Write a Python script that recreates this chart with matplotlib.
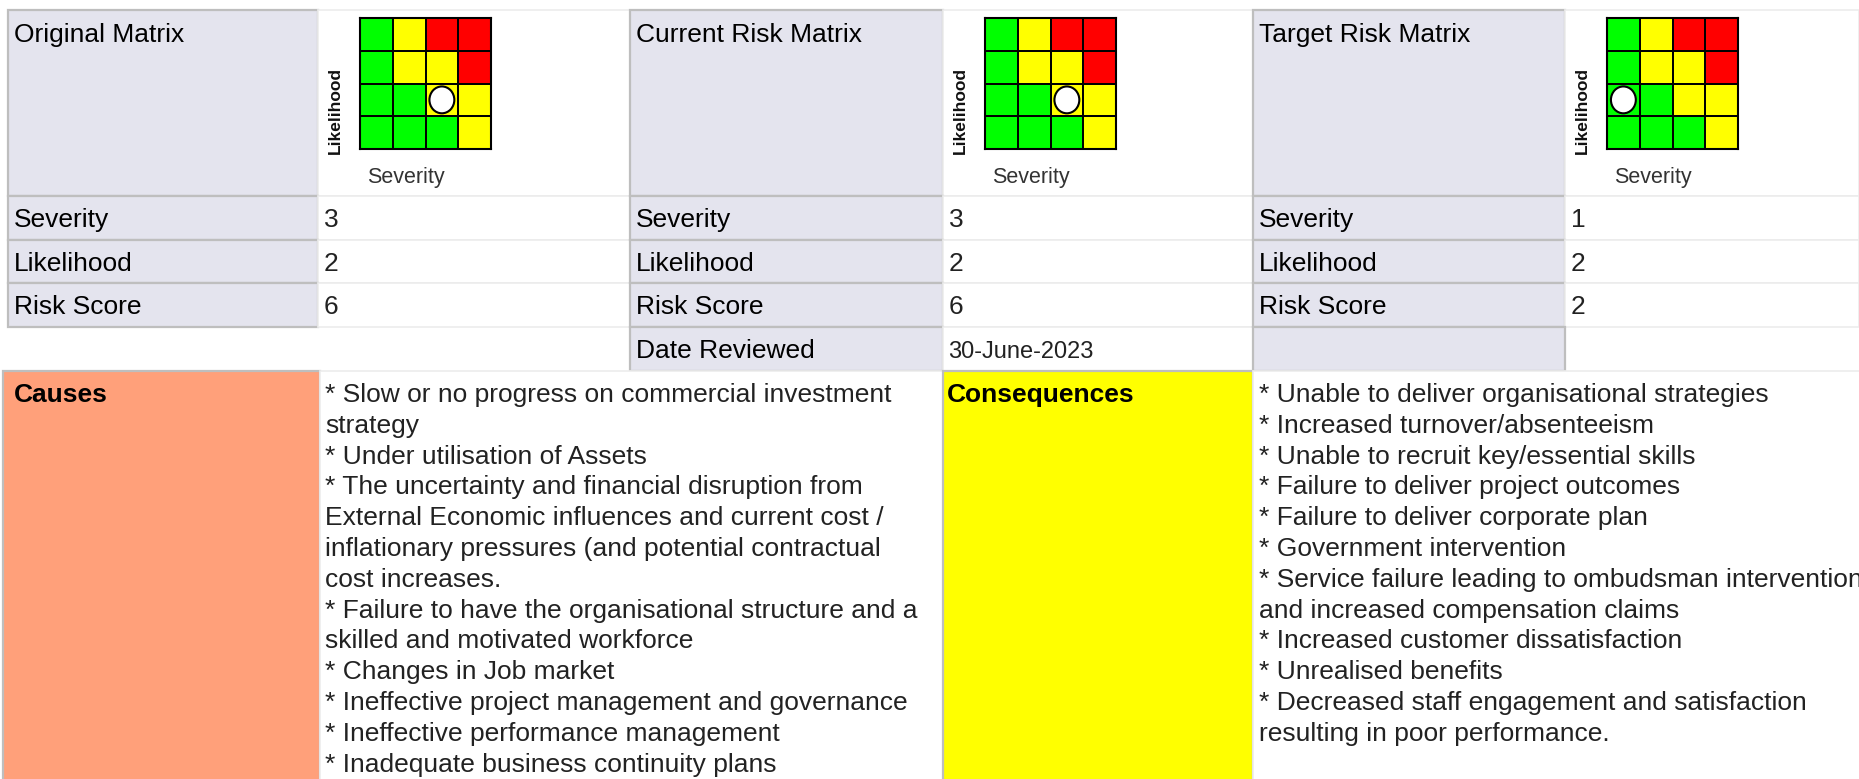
import matplotlib
matplotlib.use("Agg")
import matplotlib.pyplot as plt
from matplotlib.patches import Rectangle, Ellipse
from matplotlib.colors import ListedColormap
import numpy as np

# ---------------- data ----------------
panel_titles = ["Original Matrix", "Current Risk Matrix", "Target Risk Matrix"]
row_labels = ["Severity", "Likelihood", "Risk Score"]
severity = [3, 3, 1]
likelihood = [2, 2, 2]
risk_score = [6, 6, 2]
date_label = "Date Reviewed"
date_reviewed = "30-June-2023"
axis_x_label = "Severity"
axis_y_label = "Likelihood"
# risk level per cell, rows from likelihood 1 (bottom) to 4 (top); 0=green 1=yellow 2=red
matrix_levels = [
    [0, 0, 0, 1],
    [0, 0, 1, 1],
    [0, 1, 1, 2],
    [0, 1, 2, 2],
]
level_colors = ["#00FF00", "#FFFF00", "#FF0000"]

causes_title = "Causes"
causes_lines = [
    "* Slow or no progress on commercial investment",
    "strategy",
    "* Under utilisation of Assets",
    "* The uncertainty and financial disruption from",
    "External Economic influences and current cost /",
    "inflationary pressures (and potential contractual",
    "cost increases.",
    "* Failure to have the organisational structure and a",
    "skilled and motivated workforce",
    "* Changes in Job market",
    "* Ineffective project management and governance",
    "* Ineffective performance management",
    "* Inadequate business continuity plans",
]
consequences_title = "Consequences"
consequences_lines = [
    "* Unable to deliver organisational strategies",
    "* Increased turnover/absenteeism",
    "* Unable to recruit key/essential skills",
    "* Failure to deliver project outcomes",
    "* Failure to deliver corporate plan",
    "* Government intervention",
    "* Service failure leading to ombudsman intervention",
    "and increased compensation claims",
    "* Increased customer dissatisfaction",
    "* Unrealised benefits",
    "* Decreased staff engagement and satisfaction",
    "resulting in poor performance.",
]

# ---------------- layout ----------------
W, H = 1859, 779
DPI = 100
plt.rcParams['font.family'] = ['Liberation Sans', 'DejaVu Sans']

LAV = "#E4E4EE"
LAV_EDGE = "#BEBEBE"
CELL_EDGE = "#ECECEC"
SALMON = "#FFA07A"
YELLOW = "#FFFF00"
TXT = "#222222"
FS = 19

col_edges = [8, 318, 630, 943, 1253, 1565, 1859]
row_edges = [10, 196, 240, 283, 327, 371]
low_cols = [3, 320, 943, 1253, 1862]
low_top, low_bot = 371, 782

fig = plt.figure(figsize=(W / DPI, H / DPI), dpi=DPI)
fig.patch.set_facecolor("white")
ax = fig.add_axes([0, 0, 1, 1])
ax.set_xlim(0, W)
ax.set_ylim(H, 0)
ax.axis("off")


def cell(x0, x1, y0, y1, fc, ec, lw):
    ax.add_patch(Rectangle((x0, y0), x1 - x0, y1 - y0, facecolor=fc,
                           edgecolor=ec, linewidth=lw, zorder=1))


cmap = ListedColormap(level_colors)
levels = np.array(matrix_levels)

for i, title in enumerate(panel_titles):
    lx0, lx1 = col_edges[2 * i], col_edges[2 * i + 1]
    vx0, vx1 = col_edges[2 * i + 1], col_edges[2 * i + 2]
    nrows = 4 if i == 0 else 5
    for r in range(nrows):
        y0, y1 = row_edges[r], row_edges[r + 1]
        cell(lx0, lx1, y0, y1, LAV, LAV_EDGE, 1.6)
        if r < 4 or i == 1:
            if not (i == 2 and r == 4):
                cell(vx0, vx1, y0, y1, "white", CELL_EDGE, 1.2)
    # labels
    ax.text(lx0 + 6, row_edges[0] + 32, title, fontsize=FS, color="black",
            va="baseline", ha="left", zorder=3)
    vals = [severity[i], likelihood[i], risk_score[i]]
    for r, (lab, v) in enumerate(zip(row_labels, vals)):
        yb = row_edges[r + 1] + 31
        ax.text(lx0 + 6, yb, lab, fontsize=FS, color="black", va="baseline", zorder=3)
        ax.text(vx0 + 6, yb, str(v), fontsize=FS, color=TXT, va="baseline", zorder=3)
    if i == 1:
        yb = row_edges[4] + 31
        ax.text(lx0 + 6, yb, date_label, fontsize=FS, color="black", va="baseline", zorder=3)
        ax.text(vx0 + 5, yb, date_reviewed, fontsize=17, color=TXT, va="baseline", zorder=3)

    # matrix
    gx, gy, gw, gh = vx0 + 42, 18, 131, 131
    max_ = fig.add_axes([gx / W, 1 - (gy + gh) / H, gw / W, gh / H])
    max_.pcolormesh(np.arange(5), np.arange(5), levels, cmap=cmap, vmin=-0.5, vmax=2.5,
                    edgecolors="black", linewidth=1.1)
    max_.add_patch(Ellipse((severity[i] - 0.5, likelihood[i] - 0.5), 0.76, 0.82,
                           facecolor="white", edgecolor="black", linewidth=1.5, zorder=5))
    max_.set_xlim(0, 4)
    max_.set_ylim(0, 4)
    max_.set_xticks([])
    max_.set_yticks([])
    for s in max_.spines.values():
        s.set_linewidth(1.5)
        s.set_color("black")
    ax.text(vx0 + 17, 110, axis_y_label, rotation=90, fontsize=12.5, fontweight="bold",
            color="#111111", ha="center", va="center", zorder=3)
    ax.text(gx + 7, 177, axis_x_label, fontsize=15.5, color="#333333",
            ha="left", va="center", zorder=3)

# lower section
cell(low_cols[0], low_cols[1], low_top, low_bot, SALMON, LAV_EDGE, 1.6)
cell(low_cols[1], low_cols[2], low_top, low_bot, "white", CELL_EDGE, 1.2)
cell(low_cols[2], low_cols[3], low_top, low_bot, YELLOW, LAV_EDGE, 1.6)
cell(low_cols[3], low_cols[4], low_top, low_bot, "white", CELL_EDGE, 1.2)

LH = 30.8
base = 402
ax.text(low_cols[0] + 11, base, causes_title, fontsize=FS, fontweight="bold",
        color="black", va="baseline", zorder=3)
ax.text(low_cols[2] + 4, base, consequences_title, fontsize=FS, fontweight="bold",
        color="black", va="baseline", zorder=3)
for k, line in enumerate(causes_lines):
    ax.text(low_cols[1] + 5, base + k * LH, line, fontsize=FS, color=TXT,
            va="baseline", zorder=3)
for k, line in enumerate(consequences_lines):
    ax.text(low_cols[3] + 6, base + k * LH, line, fontsize=FS, color=TXT,
            va="baseline", zorder=3, clip_on=True)

fig.savefig("out.png", dpi=DPI, facecolor="white")
